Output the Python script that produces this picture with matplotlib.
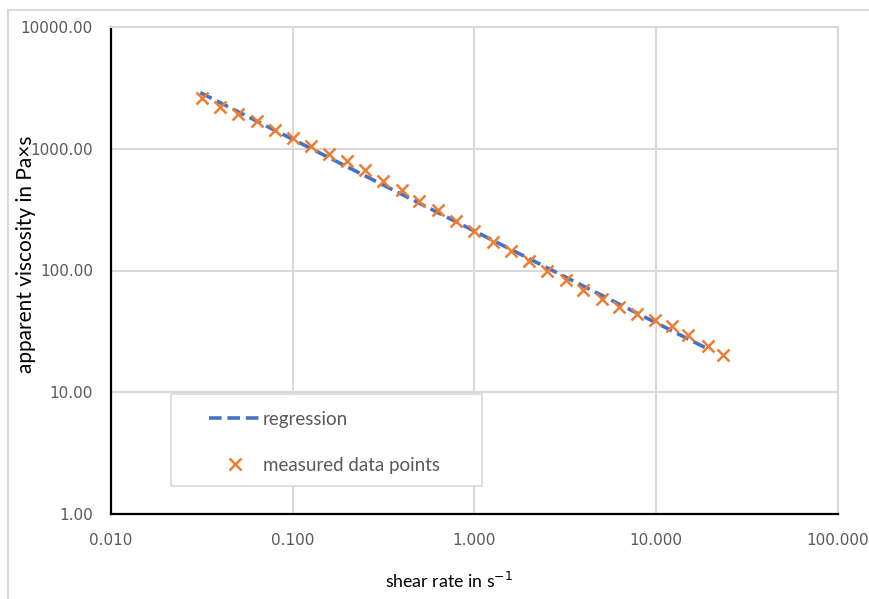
import numpy as np
import matplotlib
matplotlib.use('Agg')
import matplotlib.pyplot as plt
from matplotlib.lines import Line2D
from matplotlib.patches import Rectangle
from matplotlib.ticker import FixedLocator, NullLocator

shear_rate = [0.0316, 0.0398, 0.0501, 0.0634, 0.0799, 0.1007, 0.126, 0.158,
              0.1995, 0.2506, 0.315, 0.397, 0.497, 0.628, 0.791, 0.998,
              1.259, 1.58, 1.995, 2.52, 3.18, 3.97, 5.01, 6.26, 7.87,
              9.88, 12.2, 14.9, 19.3, 23.4]
viscosity = [2600, 2195, 1923, 1676, 1435, 1225, 1048, 897,
             790, 664, 543, 456, 373, 313, 256, 212,
             173, 144, 119, 100, 84, 69.6, 58.7, 50.2, 44.3,
             39.1, 34.8, 29.5, 24.2, 20.2]

# regression line end points
reg_x = [0.031, 19.8]
reg_y = [2890, 22.2]

x_ticks = [0.01, 0.1, 1, 10, 100]
x_labels = ['0.010', '0.100', '1.000', '10.000', '100.000']
y_ticks = [1, 10, 100, 1000, 10000]
y_labels = ['1.00', '10.00', '100.00', '1000.00', '10000.00']

blue = '#4472c4'
orange = '#ed7d31'
grid_col = '#d9d9d9'
text_col = '#595959'
dash = (0, (3.5, 1.6))

W, H = 870, 599
def fx(px):
    return px / W
def fy(py):
    return 1 - py / H

fig = plt.figure(figsize=(8.7, 5.99), dpi=100)
ax = fig.add_axes([fx(111), fy(514), (838-111)/W, (514-27)/H])

ax.set_xscale('log')
ax.set_yscale('log')
ax.set_xlim(0.01, 100)
ax.set_ylim(1, 10000)

ax.plot(reg_x, reg_y, color=blue, lw=2.6, ls=dash, zorder=3)
ax.plot(shear_rate, viscosity, ls='none', marker='x', ms=9, mew=1.8,
        color=orange, zorder=4)

ax.xaxis.set_major_locator(FixedLocator(x_ticks))
ax.yaxis.set_major_locator(FixedLocator(y_ticks))
ax.xaxis.set_minor_locator(NullLocator())
ax.yaxis.set_minor_locator(NullLocator())
ax.set_xticklabels(x_labels)
ax.set_yticklabels(y_labels)
ax.tick_params(length=0, labelsize=11, colors=text_col)
ax.tick_params(axis='y', pad=13)
ax.tick_params(axis='x', pad=14)
for lab in ax.get_xticklabels() + ax.get_yticklabels():
    lab.set_family('DejaVu Sans')

ax.grid(True, color=grid_col, lw=1.5, zorder=0)
ax.set_axisbelow(True)
for s in ['left', 'bottom']:
    ax.spines[s].set_color('black')
    ax.spines[s].set_linewidth(1.6)
for s in ['top', 'right']:
    ax.spines[s].set_color(grid_col)
    ax.spines[s].set_linewidth(1.5)

fig.text(fx(449), fy(581), 'shear rate in s$^{-1}$', ha='center', va='center',
         fontsize=12.8, family='Lato', color='black')
fig.text(fx(26), fy(254), 'apparent viscosity in Pa\u00d7s', ha='center', va='center',
         rotation=90, fontsize=15, family='Lato', color='black')

# legend box, drawn by hand to match the Excel layout
fig.add_artist(Rectangle((fx(171), fy(486)), (482-171)/W, (486-394)/H,
                         transform=fig.transFigure, facecolor='white',
                         edgecolor=grid_col, lw=1.2, zorder=5))
fig.add_artist(Line2D([fx(209), fx(260)], [fy(418), fy(418)], color=blue, lw=2.6,
                      ls=dash, transform=fig.transFigure, zorder=6))
fig.add_artist(Line2D([fx(235)], [fy(464)], ls='none', marker='x', ms=8.5, mew=1.8,
                      color=orange, transform=fig.transFigure, zorder=6))
fig.text(fx(263), fy(418), 'regression', ha='left', va='center_baseline',
         fontsize=13.5, family='Lato', color=text_col, zorder=6)
fig.text(fx(263), fy(464), 'measured data points', ha='left', va='center_baseline',
         fontsize=13.5, family='Lato', color=text_col, zorder=6)

# outer chart border
fig.add_artist(Rectangle((fx(8), -0.1), 1.2, (589/H) + 0.1, transform=fig.transFigure,
                         fill=False, edgecolor=grid_col, lw=1.5))

fig.savefig('out.png', dpi=100)
